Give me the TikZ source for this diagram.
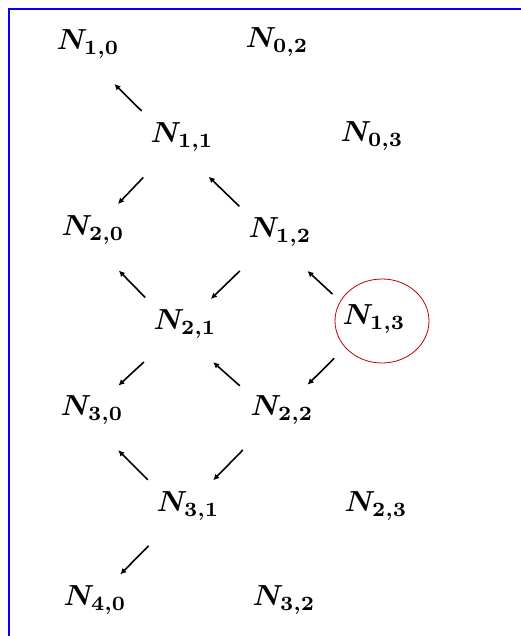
\documentclass[tikz,border=0pt]{standalone}
\usepackage{graphicx}
\usetikzlibrary{arrows.meta}
\newcommand{\nlab}[1]{\scalebox{2.9}{\boldmath$N_{#1}$}}
\begin{document}
\begin{tikzpicture}[x=1pt,y=-1pt,
  lab/.style={inner sep=0pt},
  tip/.style={-{Latex[length=6pt,width=6pt]},line width=1.6pt},
  ul/.style={tip,shorten <=47pt,shorten >=47pt,transform canvas={xshift=-7pt,yshift=-7pt}},
  dl/.style={tip,shorten <=56pt,shorten >=36pt}]
\useasboundingbox (0,0) rectangle (521,636);
\fill[white] (0,0) rectangle (521,636);
\draw[blue,line width=2.5pt] (9,700) -- (9,9) -- (600,9);
\node[lab] (n10) at (88,44) {\nlab{1,0}};
\node[lab] (n02) at (277,42) {\nlab{0,2}};
\node[lab] (n11) at (182,137) {\nlab{1,1}};
\node[lab] (n03) at (372,136) {\nlab{0,3}};
\node[lab] (n20) at (93,230) {\nlab{2,0}};
\node[lab] (n12) at (280,232) {\nlab{1,2}};
\node[lab] (n21) at (185,324) {\nlab{2,1}};
\node[lab] (n13) at (374,319) {\nlab{1,3}};
\node[lab] (n30) at (92,410) {\nlab{3,0}};
\node[lab] (n22) at (282,410) {\nlab{2,2}};
\node[lab] (n31) at (188,506) {\nlab{3,1}};
\node[lab] (n23) at (376,506) {\nlab{2,3}};
\node[lab] (n40) at (95,600) {\nlab{4,0}};
\node[lab] (n32) at (284,600) {\nlab{3,2}};
\draw[red!75!black,line width=0.8pt] ([xshift=8pt,yshift=-2pt]n13.center) ellipse (47 and 42);
\draw[ul] (n11.center) -- (n10.center);
\draw[ul] (n12.center) -- (n11.center);
\draw[ul] (n21.center) -- (n20.center);
\draw[ul] (n13.center) -- (n12.center);
\draw[ul] (n22.center) -- (n21.center);
\draw[ul] (n31.center) -- (n30.center);
\draw[dl] (n11.center) -- (n20.center);
\draw[dl] (n12.center) -- (n21.center);
\draw[dl] (n13.center) -- (n22.center);
\draw[dl] (n21.center) -- (n30.center);
\draw[dl] (n22.center) -- (n31.center);
\draw[dl] (n31.center) -- (n40.center);
\end{tikzpicture}
\end{document}
